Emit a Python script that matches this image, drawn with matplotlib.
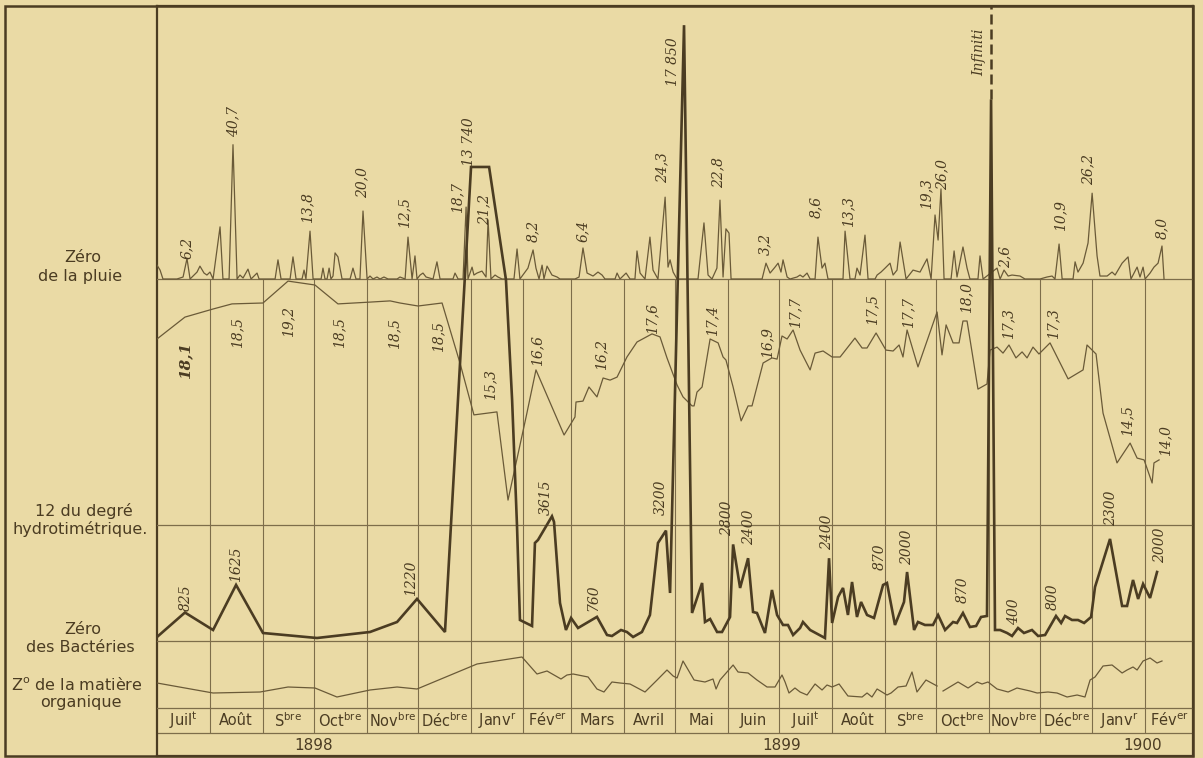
import numpy as np
import matplotlib.pyplot as plt
from matplotlib.patches import Rectangle

# colours of the old print
bg = '#eadaa5'
ink = '#4b3c22'
thin_ink = '#6a5a38'
grid_ink = '#7d6d4a'

month_names = ['Juil$^{\\mathregular{t}}$', 'Août', 'S$^{\\mathregular{bre}}$', 'Oct$^{\\mathregular{bre}}$',
               'Nov$^{\\mathregular{bre}}$', 'Déc$^{\\mathregular{bre}}$', 'Janv$^{\\mathregular{r}}$',
               'Fév$^{\\mathregular{er}}$', 'Mars', 'Avril', 'Mai', 'Juin', 'Juil$^{\\mathregular{t}}$', 'Août',
               'S$^{\\mathregular{bre}}$', 'Oct$^{\\mathregular{bre}}$', 'Nov$^{\\mathregular{bre}}$',
               'Déc$^{\\mathregular{bre}}$', 'Janv$^{\\mathregular{r}}$', 'Fév$^{\\mathregular{er}}$']
month_days = [31, 31, 30, 31, 30, 31, 31, 28, 31, 30, 31, 30, 31, 31, 30, 31, 30, 31, 31, 28]
years = ['1898', '1899', '1900']
year_months = [6, 12, 2]

# rain, mm (day counted from 1 July 1898)
rain_points = [
    (0, 4.2), (1.8, 2.7), (3.5, 0), (11.7, 0), (15.3, 0.6), (17.6, 6.2), (19.4, 0),
    (23.5, 2.1), (25.2, 3.9), (27.6, 1.8), (29.3, 1.2), (31.1, 2.1), (32.9, 0),
    (37.0, 15.8), (38.7, 0), (42.3, 0), (44.6, 40.7), (47.0, 0), (48.7, 1.2), (50.5, 0.3),
    (53.4, 3.0), (55.2, 0), (58.7, 1.8), (59.9, 0), (69.3, 0), (71.0, 5.8), (72.8, 0),
    (78.1, 0), (79.8, 6.7), (81.6, 0), (85.1, 0), (86.3, 2.7), (87.4, 0), (89.8, 14.5),
    (91.6, 0), (96.3, 0), (97.4, 3.3), (98.6, 0), (99.8, 0), (101.0, 3.3), (102.1, 0),
    (103.3, 0.9), (104.5, 7.9), (106.2, 6.7), (108.6, 0), (113.3, 0), (115.0, 3.3),
    (116.8, 0), (119.1, 0), (120.9, 20.6), (123.3, 0), (125.0, 0.9), (126.8, 0),
    (129.1, 0.6), (130.9, 0), (133.2, 0.6), (135.6, 0), (140.9, 0), (142.6, 0.6),
    (145.6, 0), (147.3, 12.7), (149.7, 0), (151.4, 7.0), (152.6, 0), (154.4, 1.2),
    (156.1, 1.8), (157.9, 0.6), (162.0, 0), (164.3, 5.2), (166.1, 0), (173.7, 0),
    (174.9, 1.8), (176.7, 0), (179.6, 0), (181.4, 21.8), (182.5, 0), (184.9, 3.6),
    (186.0, 1.2), (187.8, 1.8), (190.7, 2.4), (193.1, 0.6), (194.3, 17.9), (196.0, 0),
    (198.4, 1.2), (200.1, 0.6), (202.5, 0), (209.5, 0), (211.3, 9.1), (213.0, 0),
    (217.7, 3.3), (220.7, 8.8), (222.4, 3.3), (224.2, 0), (226.0, 4.2), (227.1, 0),
    (228.9, 3.9), (231.8, 1.2), (234.8, 0.6), (236.5, 0), (245.3, 0), (247.7, 0.6),
    (250.0, 9.4), (252.4, 1.8), (255.9, 0.9), (258.8, 2.1), (261.2, 1.2), (262.9, 0),
    (268.8, 0), (270.0, 1.8), (271.7, 0), (275.3, 1.8), (277.6, 0), (280.5, 0),
    (281.7, 8.5), (283.5, 1.8), (286.4, 0), (289.3, 12.7), (291.1, 2.7), (294.0, 0),
    (298.2, 24.8), (299.9, 3.6), (301.1, 5.8), (302.9, 2.1), (305.2, 0), (317.5, 0),
    (321.0, 17.0), (323.4, 1.2), (325.7, 0), (328.6, 3.3), (330.4, 23.9), (332.2, 0.6),
    (333.9, 15.2), (335.7, 13.9), (336.9, 0), (355.1, 0), (357.4, 4.8), (359.8, 1.8),
    (362.7, 3.6), (364.5, 4.8), (366.2, 2.1), (367.4, 5.8), (369.8, 0.6), (371.5, 0),
    (375.6, 0.6), (377.4, 1.2), (379.1, 0.6), (381.5, 1.8), (383.3, 0), (386.2, 0),
    (387.9, 12.7), (390.3, 3.3), (392.0, 4.8), (393.8, 0), (402.6, 0), (403.8, 14.5),
    (406.7, 0), (409.6, 0), (410.8, 3.3), (412.6, 1.2), (415.5, 13.3), (417.3, 0),
    (421.4, 0), (422.6, 1.2), (424.9, 2.1), (427.3, 3.3), (430.2, 4.8), (432.0, 1.2),
    (434.3, 2.7), (436.1, 11.2), (439.6, 0), (443.7, 2.7), (447.8, 2.1), (451.9, 6.1),
    (454.3, 0), (456.6, 19.4), (458.4, 11.8), (460.1, 27.3), (461.9, 0), (466.0, 0),
    (467.8, 8.5), (469.5, 0.6), (473.0, 9.7), (475.4, 3.3), (477.1, 0), (481.8, 0),
    (483.0, 7.0), (484.8, 0), (493.0, 3.3), (494.8, 0), (497.1, 2.7), (499.5, 0.9),
    (501.8, 1.2), (506.5, 0.9), (509.4, 0), (518.2, 0), (522.3, 0.6), (525.3, 0.9),
    (527.0, 0), (529.4, 10.6), (531.2, 0), (537.6, 0), (538.8, 5.2), (540.5, 2.1),
    (543.5, 4.8), (546.4, 10.9), (548.8, 26.0), (551.7, 7.0), (553.4, 0.9), (557.6, 0.9),
    (560.5, 2.1), (562.3, 1.2), (566.4, 4.8), (569.9, 6.7), (571.6, 0), (575.2, 3.6),
    (576.9, 0.6), (578.7, 3.6), (579.9, 0), (582.8, 1.8), (585.1, 3.6), (587.5, 4.8),
    (589.8, 10.0), (591.0, 0),
]

# degré hydrotimétrique
hydro_points = [
    (0, 18.2), (16.4, 18.93), (32.9, 19.2), (44.0, 19.37), (62.2, 19.4), (76.9, 20.13),
    (92.7, 20.0), (106.2, 19.37), (125.0, 19.43), (136.8, 19.47), (142.6, 19.4), (153.2, 19.3),
    (167.3, 19.4), (177.8, 17.4), (186.0, 15.67), (199.5, 15.77), (206.0, 12.83), (216.6, 15.6),
    (222.4, 17.17), (238.9, 15.0), (245.3, 15.6), (245.9, 16.1), (250.0, 16.13), (253.5, 16.6),
    (258.2, 16.27), (261.8, 16.9), (265.9, 16.83), (270.0, 16.93), (275.8, 17.6), (281.7, 18.1),
    (290.5, 18.37), (295.2, 18.27), (299.3, 17.57), (305.2, 16.67), (308.7, 16.27), (314.0, 15.97),
    (315.2, 15.97), (316.9, 16.43), (319.9, 16.6), (324.6, 18.2), (329.3, 18.07), (332.2, 17.6),
    (333.9, 17.5), (338.1, 16.6), (342.8, 15.47), (346.9, 15.97), (349.2, 15.97), (355.7, 17.4),
    (360.9, 17.57), (363.9, 17.53), (366.8, 18.3), (369.8, 18.2), (373.3, 18.5), (377.4, 17.83),
    (383.3, 17.17), (386.2, 17.73), (390.9, 17.8), (396.2, 17.6), (400.9, 17.6), (409.6, 18.23),
    (413.8, 17.9), (416.7, 17.9), (422.0, 18.4), (427.8, 17.83), (432.0, 17.8), (435.5, 18.0),
    (437.8, 17.6), (440.2, 18.5), (446.6, 17.27), (457.8, 19.1), (460.7, 17.67), (463.1, 18.67),
    (467.2, 18.07), (470.7, 18.07), (473.0, 18.8), (475.4, 18.8), (481.8, 16.53), (487.1, 16.7),
    (488.9, 17.83), (493.0, 17.93), (496.5, 17.73), (500.0, 18.0), (504.1, 17.57), (507.7, 17.77),
    (510.6, 17.57), (514.1, 17.93), (517.6, 17.7), (524.1, 18.07), (534.7, 16.87), (543.5, 17.17),
    (545.8, 18.0), (551.1, 17.7), (555.2, 15.73), (563.4, 14.07), (571.1, 14.73), (575.2, 14.23),
    (579.3, 14.17), (584.0, 13.4), (585.1, 14.07), (588.1, 14.17),
]

# bactéries par cm3
bact_points = [
    (0, 116), (16.4, 825), (32.9, 319), (46.4, 1625), (62.2, 232), (93.9, 87), (125.0, 261),
    (140.9, 551), (152.6, 1220), (169.0, 261), (184.3, 13740), (194.9, 13740), (204.8, 10469),
    (208.4, 6989), (211.3, 3306), (213.0, 609), (220.1, 435), (221.8, 2842), (223.6, 2929),
    (231.8, 3615), (233.0, 3451), (236.5, 1102), (240.0, 319), (243.0, 667), (247.1, 377),
    (258.2, 700), (264.1, 174), (267.0, 145), (272.3, 319), (275.8, 261), (279.4, 116),
    (284.6, 261), (289.3, 754), (294.0, 2842), (298.7, 3200), (301.1, 1392), (309.3, 17850),
    (314.0, 812), (319.9, 1682), (321.6, 551), (324.6, 638), (328.7, 261), (331.6, 261),
    (336.3, 696), (338.1, 2800), (342.2, 1537), (346.9, 2400), (349.8, 841), (352.1, 812),
    (356.8, 232), (360.9, 1479), (363.9, 754), (367.4, 464), (370.3, 464), (373.3, 174),
    (377.4, 377), (379.1, 551), (383.3, 319), (392.0, 87), (394.4, 2400), (396.2, 522),
    (399.7, 1276), (402.6, 1537), (405.5, 754), (407.9, 1711), (410.8, 696), (413.2, 1131),
    (416.7, 754), (420.8, 667), (426.1, 1624), (428.4, 1682), (433.1, 464), (438.4, 1131),
    (440.2, 2000), (444.3, 319), (446.6, 551), (450.7, 464), (455.4, 464), (458.4, 754),
    (462.5, 319), (467.2, 551), (469.5, 522), (473.0, 812), (477.1, 406), (480.7, 435),
    (483.6, 696), (487.1, 725), (489.5, 15700), (491.8, 319), (494.8, 319),
    (498.9, 232), (501.8, 145), (505.3, 377), (508.8, 232), (513.5, 319), (517.1, 145),
    (521.2, 174), (527.6, 725), (530.6, 522), (532.9, 725), (537.0, 609), (540.5, 609),
    (544.1, 522), (548.2, 696), (550.5, 1566), (559.3, 2958), (566.4, 1015), (569.3, 1015),
    (572.8, 1769), (575.8, 1218), (578.7, 1653), (582.8, 1247), (586.9, 2000),
]
infinite_day = 489.5

# matière organique
org_points = [
    (0, 2.5), (32.9, 1.5), (60.5, 1.6), (76.9, 2.1), (92.7, 2.0), (105.6, 1.1), (125.0, 1.8),
    (140.9, 2.1), (152.6, 1.9), (187.8, 4.4), (214.2, 5.1), (223.0, 3.4), (228.9, 3.7),
    (237.1, 2.9), (240.6, 3.3), (244.2, 3.4), (253.0, 3.1), (258.2, 1.9), (262.3, 1.6),
    (267.0, 2.6), (271.7, 2.5), (277.6, 2.4), (286.4, 1.6), (293.5, 2.8), (299.3, 3.8),
    (302.9, 3.2), (305.2, 3.0), (308.7, 4.7), (315.2, 2.8), (321.6, 2.6), (326.3, 2.9),
    (328.1, 1.9), (330.4, 2.8), (338.1, 4.3), (341.0, 3.6), (346.9, 3.5), (352.1, 2.8),
    (358.0, 2.1), (362.7, 2.1), (366.8, 3.3), (368.6, 2.6), (370.9, 1.5), (374.4, 2.0),
    (377.4, 1.6), (381.5, 1.3), (386.2, 2.4), (390.3, 1.8), (393.2, 2.3), (396.2, 2.1),
    (400.3, 2.4), (405.5, 1.2), (413.8, 1.1), (416.7, 1.5), (419.6, 1.1), (422.6, 1.9),
    (428.4, 1.3), (430.8, 1.5), (434.9, 2.1), (439.6, 2.2), (443.1, 3.6), (446.0, 1.6),
    (451.3, 2.8), (457.8, 2.2), (459.5, np.nan), (461.3, 1.7), (470.1, 2.6), (476.0, 2.0),
    (481.3, 2.6), (484.2, 2.4), (487.7, 2.6), (493.0, 1.9), (499.5, 1.6), (504.7, 2.0),
    (512.4, 1.7), (516.5, 1.5), (522.9, 1.6), (528.2, 1.5), (534.1, 1.1), (540.0, 1.3),
    (544.6, 1.1), (547.6, 2.8), (550.5, 3.1), (555.2, 4.2), (560.5, 4.3), (566.4, 3.5),
    (569.3, 3.8), (572.8, 4.1), (575.2, 3.8), (578.7, 4.7), (582.8, 5.0), (586.9, 4.5),
    (589.8, 4.7),
]

# labels written along the curves (text, day, value)
rain_labels = [
    ('6,2', 17.6, 9.4), ('40,7', 44.6, 47.6), ('13,8', 88.0, 21.8), ('20,0', 120.3, 29.1),
    ('12,5', 145.0, 20.3), ('18,7', 176.1, 24.8), ('21,2', 191.9, 21.2), ('8,2', 220.7, 14.5),
    ('6,4', 250.0, 14.5), ('24,3', 296.4, 33.9), ('22,8', 329.3, 32.4), ('3,2', 356.8, 10.6),
    ('8,6', 386.8, 21.8), ('13,3', 405.5, 20.6), ('19,3', 451.3, 25.8), ('26,0', 460.7, 31.8),
    ('2,6', 497.7, 6.7), ('10,9', 530.0, 19.1), ('26,2', 546.4, 33.3), ('8,0', 589.8, 15.5),
]
hydro_labels = [
    ('18,5', 47.0, 18.4), ('19,2', 76.9, 18.77), ('18,5', 106.8, 18.4), ('18,5', 139.1, 18.37),
    ('18,5', 164.9, 18.27), ('15,3', 195.4, 16.67), ('16,6', 223.0, 17.83), ('16,2', 260.6, 17.7),
    ('17,6', 290.5, 18.9), ('17,4', 325.7, 18.83), ('16,9', 358.0, 18.1), ('17,7', 374.4, 19.1),
    ('17,5', 419.6, 19.17), ('17,7', 440.8, 19.07), ('18,0', 474.8, 19.57), ('17,3', 499.5, 18.73),
    ('17,3', 525.9, 18.73), ('14,5', 569.3, 15.5), ('14,0', 591.6, 14.83),
]
bact_labels = [
    ('825', 17.0, 1247), ('1625', 46.4, 2233), ('1220', 149.1, 1827), ('13 740', 183.1, 14471),
    ('3615', 228.3, 4176), ('760', 255.9, 1247), ('3200', 295.8, 4176), ('17 850', 302.9, 16791),
    ('2800', 334.5, 3567), ('2400', 347.4, 3306), ('2400', 393.2, 3161), ('870', 424.3, 2436),
    ('2000', 440.2, 2726), ('870', 473.0, 1479), ('400', 503.0, 841), ('800', 525.9, 1276),
    ('2300', 559.9, 3857), ('2000', 588.7, 2784),
]

W, H = 1203, 758
fig = plt.figure(figsize=(W / 100, H / 100), dpi=100, facecolor=bg)

# plot frame goes from x=157 to 1193 px and y=6 to 756 px
ax = fig.add_axes([157 / W, 2 / H, 1036 / W, 750 / H])
ax.set_facecolor(bg)
edges = np.concatenate([[0], np.cumsum(month_days)])
ax.set_xlim(0, edges[-1])
ax.set_ylim(0, 750)
ax.set_xticks([])
ax.set_yticks([])
for s in ax.spines.values():
    s.set_color(ink)
    s.set_linewidth(1.6)


def overlay(lo, hi):
    a = ax.twinx()
    a.set_ylim(lo, hi)
    a.set_xlim(0, edges[-1])
    a.set_facecolor('none')
    a.set_yticks([])
    for s in a.spines.values():
        s.set_visible(False)
    return a


ax_rain = overlay(-477 / 3.3, 273 / 3.3)
ax_hydro = overlay(12 - 231 / 30, 12 + 519 / 30)
ax_bact = overlay(-115 / 0.0345, 635 / 0.0345)
ax_org = overlay(-4.8, 70.2)

# structure: zero lines, month grid, label rows
ax_rain.axhline(0, color=grid_ink, lw=0.9)
ax_hydro.axhline(12, color=grid_ink, lw=0.9)
ax_bact.axhline(0, color=grid_ink, lw=0.9)
ax_org.axhline(0, color=grid_ink, lw=0.9)
row_bottom = 23 / 750
rain_zero = 477 / 750
ax.axhline(750 * row_bottom, color=grid_ink, lw=0.9)
ax.vlines(edges[1:-1], 750 * row_bottom, 750 * rain_zero, color=grid_ink, lw=0.8)

mids = (edges[:-1] + edges[1:]) / 2
for name, m in zip(month_names, mids):
    ax.text(m, 35.5, name, ha='center', va='center', fontsize=10.5, color=ink)

yedges = np.concatenate([[0], np.cumsum([sum(month_days[a:b]) for a, b in
                                         [(0, 6), (6, 18), (18, 20)]])])
for y, a, b in zip(years, yedges[:-1], yedges[1:]):
    ax.text((a + b) / 2, 11, y, ha='center', va='center', fontsize=11, color=ink)

# curves
d, v = zip(*rain_points)
ax_rain.plot(d, v, color=thin_ink, lw=0.9)
d, v = zip(*hydro_points)
ax_hydro.plot(d, v, color=thin_ink, lw=0.9)
d, v = zip(*org_points)
ax_org.plot(d, v, color=thin_ink, lw=0.9)
d, v = zip(*bact_points)
ax_bact.plot(d, v, color=ink, lw=1.9, solid_joinstyle='miter')
ax_bact.vlines(infinite_day, 15700, 635 / 0.0345, color=ink, lw=1.8, linestyles=(0, (4, 2)))

lab = dict(rotation=90, ha='center', va='center', fontsize=10, style='italic',
           family='DejaVu Serif', color=ink)
for t, x, y in rain_labels:
    ax_rain.text(x, y, t, **lab)
ax_rain.text(482.4, 68.8, 'Infiniti', **lab)
for t, x, y in hydro_labels:
    ax_hydro.text(x, y, t, **lab)
ax_hydro.text(16.4, 17.5, '18,1', rotation=90, ha='center', va='center', fontsize=11,
              style='italic', weight='bold', family='DejaVu Serif', color=ink)
for t, x, y in bact_labels:
    ax_bact.text(x, y, t, **lab)

# left side captions
side = [('Zéro', 83, 258), ('de la pluie', 80, 276),
        ('12 du degré', 84, 511), ('hydrotimétrique.', 80, 529),
        ('Zéro', 83, 629), ('des Bactéries', 80, 647),
        ('Z$^{\\mathregular{o}}$ de la matière', 77, 684), ('organique', 81, 703)]
for t, px, py in side:
    fig.text(px / W, 1 - py / H, t, ha='center', va='center', fontsize=11.5, color=ink)

# outer border
fig.patches.append(Rectangle((5 / W, 2 / H), 1188 / W, 750 / H, transform=fig.transFigure,
                             fill=False, edgecolor=ink, lw=1.8))

fig.savefig('out.png', dpi=100, facecolor=bg)
